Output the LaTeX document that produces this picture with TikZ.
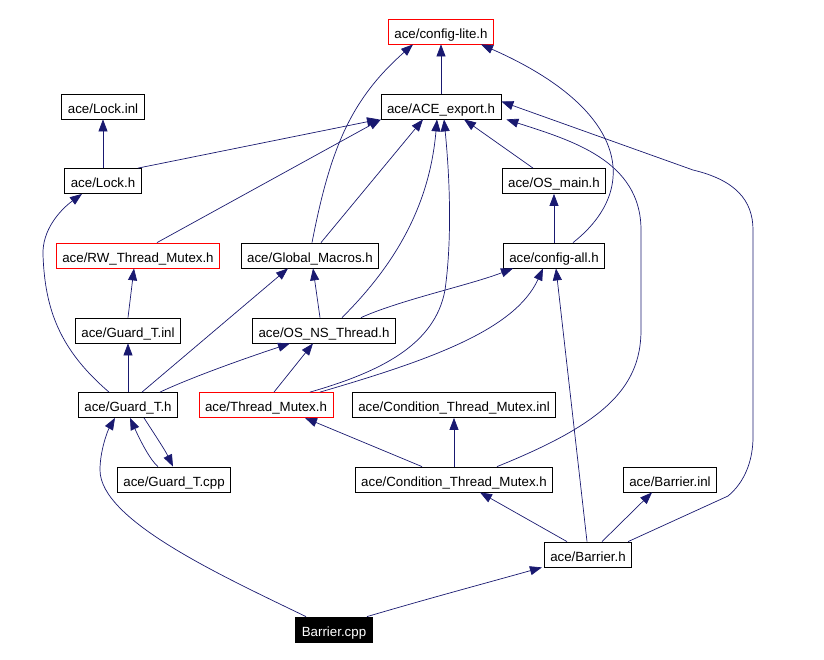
\documentclass[tikz,border=0pt]{standalone}
\usepackage{fontspec}
\setmainfont{Liberation Sans}
\usetikzlibrary{arrows.meta}
\definecolor{navy}{RGB}{25,25,112}

\begin{document}
\begin{tikzpicture}[x=1pt,y=-1pt,
            box/.style={draw,line width=0.8pt,inner xsep=6pt,inner ysep=0pt,minimum height=25pt,
              text height=13pt,text depth=0pt,font=\fontsize{13.3}{16}\selectfont},
            redbox/.style={box,draw=red},
            blackbox/.style={box,fill=black,text=white},
            dep/.style={->,navy,line width=0.7pt},
            >={Triangle[length=12pt,width=9pt]}]
            \useasboundingbox(0,0)rectangle(824,659);
            % the files
            \node[redbox](cfglite)at(441,31.5){ace/config-lite.h};
            \node[box](aceexp)at(441,106.5){ace/ACE\_export.h};
            \node[box](lockinl)at(103,106.5){ace/Lock.inl};
            \node[box](lockh)at(103,181){ace/Lock.h};
            \node[box](osmain)at(554,181){ace/OS\_main.h};
            \node[redbox](rwmutex)at(138,255.5){ace/RW\_Thread\_Mutex.h};
            \node[box](globmac)at(310,255.5){ace/Global\_Macros.h};
            \node[box](cfgall)at(554,255.5){ace/config-all.h};
            \node[box](guardinl)at(128,330.5){ace/Guard\_T.inl};
            \node[box](osns)at(324,330.5){ace/OS\_NS\_Thread.h};
            \node[box](guardh)at(128,405){ace/Guard\_T.h};
            \node[redbox](thrmutex)at(266,405){ace/Thread\_Mutex.h};
            \node[box](condinl)at(454,405){ace/Condition\_Thread\_Mutex.inl};
            \node[box](guardcpp)at(174,479.5){ace/Guard\_T.cpp};
            \node[box](condh)at(454,479.5){ace/Condition\_Thread\_Mutex.h};
            \node[box](barinl)at(670,479.5){ace/Barrier.inl};
            \node[box](barh)at(588,554.5){ace/Barrier.h};
            \node[blackbox](barcpp)at(334,629.5){Barrier.cpp};
            % includes
            \draw[dep](aceexp)--(cfglite);
            \draw[dep]([xshift=2pt]globmac.north)..controls(330,150)and(350,100)..([xshift=-28pt]cfglite.south);
            \draw[dep]([xshift=19pt]cfgall.north)..controls(640,190)and(630,110)..([xshift=40pt]cfglite.south);
            \draw[dep]([xshift=35pt]lockh.north)--([xshift=-62pt]aceexp.south);
            \draw[dep]([xshift=19pt]rwmutex.north)--([xshift=-60pt]aceexp.south);
            \draw[dep]([xshift=11pt]globmac.north)--([xshift=-18pt]aceexp.south);
            \draw[dep]([xshift=18pt]osns.north)..controls(400,260)and(430,200)..([xshift=-4pt]aceexp.south);
            \draw[dep]([xshift=44pt]thrmutex.north)..controls(380,372)and(435,345)..(445,290)
              ..controls(452,240)and(450,180)..([xshift=3pt]aceexp.south);
            \draw[dep]([xshift=-21pt]osmain.north)--([xshift=23pt]aceexp.south);
            \draw[dep]([xshift=43pt]condh.north)..controls(600,425)and(641,390)..(641,330)--(641,230)
              ..controls(641,160)and(570,140)..([xshift=5pt]aceexp.south east);
            \draw[dep]([xshift=-4pt]barh.north east)--(728,496)..controls(745,482)and(753,460)..(753,437)
              --(753,230)..controls(753,200)and(735,180)..(693,170)--([yshift=5pt]aceexp.east);
            \draw[dep](lockh)--(lockinl);
            \draw[dep]([xshift=-19pt]guardh.north)..controls(60,350)and(45,310)..(43,255)
              ..controls(42,230)and(60,210)..([xshift=-21pt]lockh.south);
            \draw[dep](cfgall)--(osmain);
            \draw[dep](guardinl.north)--([xshift=-4pt]rwmutex.south);
            \draw[dep]([xshift=14pt]guardh.north)--([xshift=-22pt]globmac.south);
            \draw[dep]([xshift=-4pt]osns.north)--([xshift=3pt]globmac.south);
            \draw[dep]([xshift=37pt]osns.north)..controls(400,300)and(470,285)..([xshift=-41pt]cfgall.south);
            \draw[dep]([xshift=54pt]thrmutex.north)..controls(430,360)and(515,330)..([xshift=-11pt]cfgall.south);
            \draw[dep]([xshift=-1pt]barh.north)--([xshift=2pt]cfgall.south);
            \draw[dep](guardh)--(guardinl);
            \draw[dep]([xshift=32pt]guardh.north)..controls(190,378)and(240,360)..([xshift=-34pt]osns.south);
            \draw[dep]([xshift=8pt]thrmutex.north)--([xshift=-11pt]osns.south);
            \draw[dep]([xshift=-16pt]guardcpp.north)..controls(150,460)and(140,440)..([xshift=2pt]guardh.south);
            \draw[dep]([xshift=16pt]guardh.south)..controls(155,435)and(165,450)..([xshift=-1pt]guardcpp.north);
            \draw[dep]([xshift=-28pt]barcpp.north)..controls(220,575)and(100,520)..(100,470)
              ..controls(100,450)and(108,430)..([xshift=-13pt]guardh.south);
            \draw[dep]([xshift=-32pt]condh.north)--([xshift=39pt]thrmutex.south);
            \draw[dep](condh)--(condinl);
            \draw[dep]([xshift=-21pt]barh.north)--([xshift=26pt]condh.south);
            \draw[dep]([xshift=14pt]barh.north)--([xshift=-18pt]barinl.south);
            \draw[dep]([xshift=33pt]barcpp.north)..controls(430,598)and(490,582)..([xshift=-2pt]barh.south west);
          \end{tikzpicture}
\end{document}
